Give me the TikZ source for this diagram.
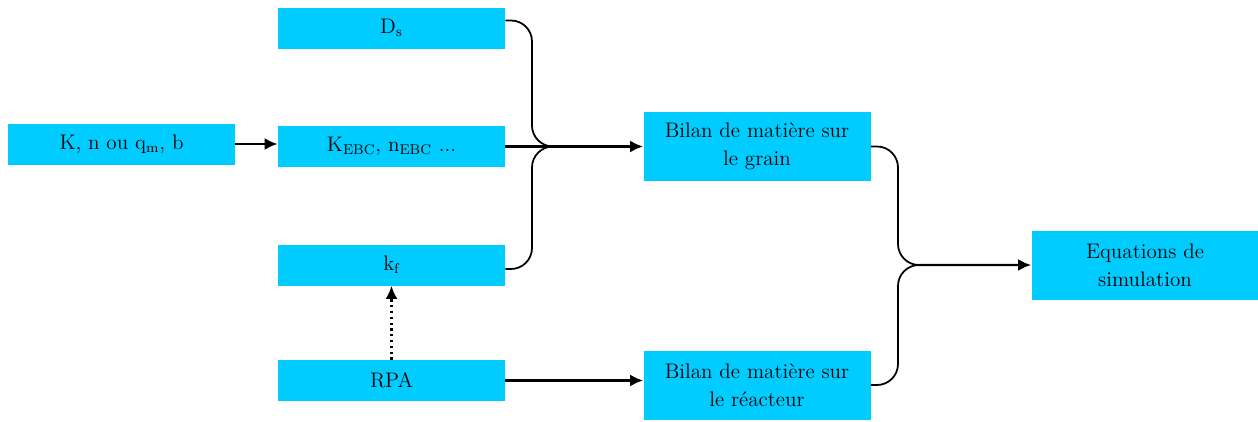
\documentclass[tikz,border=0pt]{standalone}
\usepackage{fontspec}
\usetikzlibrary{arrows.meta}
\definecolor{boxcyan}{RGB}{0,204,255}
\tikzset{%
  >={Latex[width=2.4mm,length=2.6mm]},
  % Specifications for style of nodes:
            base/.style = {rectangle, fill=boxcyan, minimum width=4.54cm,
                           minimum height=0.82cm, text centered, align=center,
                           font=\rmfamily\fontsize{12}{15.7}\selectfont},
       tallbox/.style = {base, minimum height=1.38cm},
     flowline/.style = {line width=1.4pt},
        brace/.style = {line width=1pt, rounded corners=0.42cm},
}
\begin{document}
\begin{tikzpicture}[node distance=2.37cm]
  \useasboundingbox (-7.83,-5.49) rectangle (17.33,2.93);
  % Specification of nodes (position, etc.)
  \node (kebc)  [base] at (0,0) {K\textsubscript{EBC}, n\textsubscript{EBC} ...};
  \node (ds)    [base, above of=kebc] {D\textsubscript{s}};
  \node (kf)    [base, below of=kebc] {k\textsubscript{f}};
  \node (rpa)   [base, below of=kf, yshift=0.06cm] {RPA};
  \node (kn)    [base, left of=kebc, xshift=-3.03cm, yshift=0.05cm] {K, n ou q\textsubscript{m}, b};
  \node (grain) [tallbox, right of=kebc, xshift=4.94cm] {Bilan de matière sur\\le grain};
  \node (reac)  [tallbox, right of=rpa, xshift=4.94cm, yshift=-0.09cm] {Bilan de matière sur\\le réacteur};
  \node (eq)    [tallbox, below of=grain, xshift=7.76cm] {Equations de\\simulation};
  % junction points of the curved connectors
  \coordinate (jA) at (2.81,0);
  \coordinate (mA) at (3.23,0);
  \coordinate (jB) at (10.13,-2.37);
  \coordinate (mB) at (10.55,-2.37);
  % Specification of lines between nodes specified above
  \draw[->, flowline] (kn.east) -- (kn.east -| kebc.west);
  \draw[->, flowline] (kebc) -- (grain);
  \draw[brace] ([yshift=0.15cm]ds.east) -| (jA) -- (mA);
  \draw[brace] ([yshift=-0.08cm]kf.east) -| (jA) -- (mA);
  \draw[->, line width=1.3pt, dotted] (rpa.north) -- (kf.south);
  \draw[->, flowline] (rpa.east) -- (rpa.east -| reac.west);
  \draw[brace] (grain.east) -| (jB) -- (mB);
  \draw[brace] (reac.east) -| (jB) -- (mB);
  \draw[->, flowline] (mB) -- (eq);
\end{tikzpicture}
\end{document}
